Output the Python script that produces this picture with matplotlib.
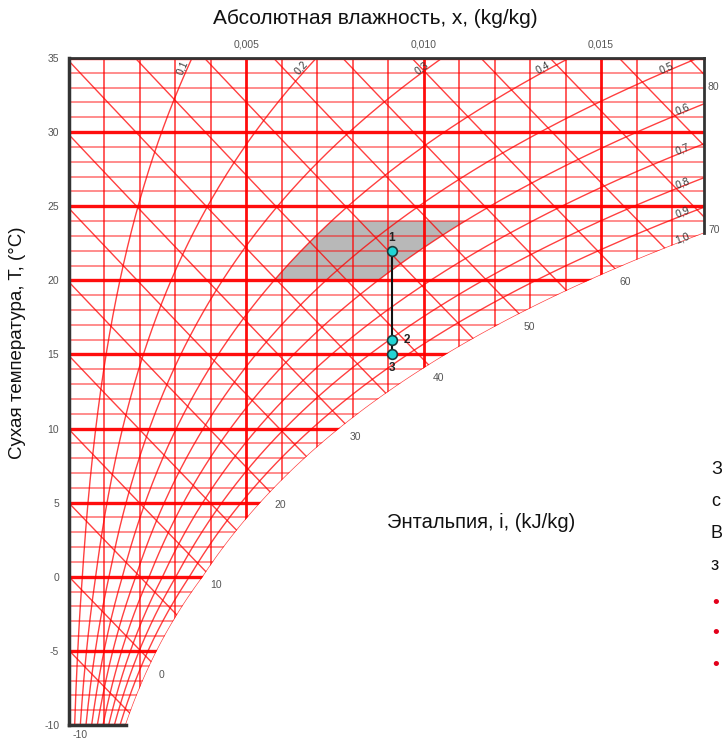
import numpy as np
import matplotlib
matplotlib.use("Agg")
import matplotlib.pyplot as plt
from matplotlib.patches import Polygon

plt.rcParams['font.family'] = ['Liberation Sans', 'DejaVu Sans']
plt.rcParams['axes.unicode_minus'] = False

# axis ranges
x_max = 0.0179
t_lo, t_hi = -10, 35
p_atm = 101.325

# grid levels
rh_levels = [0.1, 0.2, 0.3, 0.4, 0.5, 0.6, 0.7, 0.8, 0.9, 1.0]
rh_labels = ["0,1", "0,2", "0,3", "0,4", "0,5", "0,6", "0,7", "0,8", "0,9", "1,0"]
enthalpy_levels = [-10, -5, 0, 5, 10, 15, 20, 25, 30, 35, 40, 45, 50, 55,
                   60, 65, 70, 75, 80]
enthalpy_labels = [-10, 0, 10, 20, 30, 40, 50, 60, 70, 80]
t_grid = [-10, -9, -8, -7, -6, -5, -4, -3, -2, -1, 0, 1, 2, 3, 4, 5, 6, 7, 8,
          9, 10, 11, 12, 13, 14, 15, 16, 17, 18, 19, 20, 21, 22, 23, 24, 25,
          26, 27, 28, 29, 30, 31, 32, 33, 34, 35]
x_grid = [0.001, 0.002, 0.003, 0.004, 0.005, 0.006, 0.007, 0.008, 0.009,
          0.010, 0.011, 0.012, 0.013, 0.014, 0.015, 0.016, 0.017]
t_ticks = [-10, -5, 0, 5, 10, 15, 20, 25, 30, 35]
x_ticks = [0.005, 0.010, 0.015]
x_tick_labels = ["0,005", "0,010", "0,015"]

# process points
proc_x = [0.0091, 0.0091, 0.0091]
proc_t = [22.0, 16.0, 15.0]
proc_names = ["1", "2", "3"]

# comfort zone
zone_t = [20, 24]
zone_rh = [0.4, 0.6]


def p_sat(t):
    t = np.asarray(t, dtype=float)
    water = 0.61094 * np.exp(17.625 * t / (t + 243.04))
    ice = 0.61115 * np.exp(22.452 * t / (272.55 + t))
    return np.where(t >= 0, water, ice)


def x_rh(t, phi):
    pv = phi * p_sat(t)
    return 0.622 * pv / (p_atm - pv)


def x_enth(t, i):
    t = np.asarray(t, dtype=float)
    return (i - 1.006 * t) / (2501 + 1.86 * t)


red = '#ff0000'
fig = plt.figure(figsize=(7.24, 7.41), dpi=100)
ax = fig.add_axes([69 / 724, 1 - 725 / 741, (704 - 69) / 724, (725 - 58) / 741])
ax.set_xlim(0, x_max)
ax.set_ylim(t_lo, t_hi)

# region left of the saturation curve
tt = np.linspace(t_lo, t_hi, 2000)
xs = x_rh(tt, 1.0)
t_edge = np.interp(x_max, xs, tt)
ts = np.linspace(t_lo, t_edge, 400)
poly = [(0, t_lo)] + list(zip(x_rh(ts, 1.0), ts)) + [(x_max, t_edge), (x_max, t_hi), (0, t_hi)]
clip = Polygon(poly, closed=True, transform=ax.transData, facecolor='none', edgecolor='none')
ax.add_patch(clip)


def in_region(x, t):
    return (x >= 0) & (x <= x_max) & (x <= x_rh(t, 1.0) + 1e-9) & (t >= t_lo) & (t <= t_hi)


# comfort zone
zt = np.linspace(zone_t[0], zone_t[1], 50)
zone = list(zip(x_rh(zt, zone_rh[0]), zt)) + list(zip(x_rh(zt[::-1], zone_rh[1]), zt[::-1]))
ax.add_patch(Polygon(zone, closed=True, facecolor='#b8b8b8', edgecolor='none', zorder=1))

for t in t_grid:
    thick = t % 5 == 0
    ln, = ax.plot([0, x_max], [t, t], color=red, lw=2.4 if thick else 1.4,
                  alpha=0.95 if thick else 0.45, zorder=2)
    ln.set_clip_path(clip)

for xv in x_grid:
    thick = abs(round(xv * 1000) % 5) == 0
    ln, = ax.plot([xv, xv], [t_lo, t_hi], color=red, lw=2.0 if thick else 1.2,
                  alpha=0.95 if thick else 0.75, zorder=2)
    ln.set_clip_path(clip)

for i in enthalpy_levels:
    ln, = ax.plot(x_enth(tt, i), tt, color=red, lw=1.0, alpha=0.75, zorder=2)
    ln.set_clip_path(clip)

for phi in rh_levels:
    ln, = ax.plot(x_rh(tt, phi), tt, color=red, lw=1.0, alpha=0.75, zorder=2)
    ln.set_clip_path(clip)

# enthalpy labels at the lower end of each line
for i in enthalpy_labels:
    xe = x_enth(tt, i)
    m = in_region(xe, tt)
    k = np.argmax(m)
    off = (10, -10) if i == -10 else (10, -13)
    ax.annotate(str(i), (xe[k], tt[k]), xytext=off, textcoords='offset pixels',
                ha='center', va='center', fontsize=7.5, color='#555555')

# relative humidity labels
for phi, lab in zip(rh_levels, rh_labels):
    if phi <= 0.5:
        t0 = 34.2
        x0 = float(x_rh(t0, phi))
    else:
        x0 = 0.0174
        t0 = float(np.interp(x0, x_rh(tt, phi), tt))
    p1 = ax.transData.transform((float(x_rh(t0 - 0.5, phi)), t0 - 0.5))
    p2 = ax.transData.transform((float(x_rh(t0 + 0.5, phi)), t0 + 0.5))
    ang = np.degrees(np.arctan2(p2[1] - p1[1], p2[0] - p1[0]))
    if ang > 90:
        ang -= 180
    ax.annotate(lab, (x0, t0), xytext=(-4, 2), textcoords='offset pixels',
                rotation=ang, ha='center', va='center', fontsize=7.5, color='#3a3a3a',
                rotation_mode='anchor', zorder=4)

# process line and points
ax.plot(proc_x, proc_t, color='#111111', lw=1.5, zorder=5)
ax.plot(proc_x, proc_t, 'o', ms=7, mfc='#22d4d4', mec='#1a3a3a', mew=1.2, zorder=6)
offs = [(0, 13), (15, 0), (0, -14)]
for px, pt, name, off in zip(proc_x, proc_t, proc_names, offs):
    ax.annotate(name, (px, pt), xytext=off, textcoords='offset pixels', ha='center',
                va='center', fontsize=8.5, fontweight='bold', color='#222222', zorder=7)

# borders
bc = '#333333'
ax.plot([0, 0], [t_lo, t_hi], color=bc, lw=2.5, clip_on=False, zorder=8)
ax.plot([0, x_max], [t_hi, t_hi], color=bc, lw=2.0, clip_on=False, zorder=8)
ax.plot([0, float(x_rh(t_lo, 1.0))], [t_lo, t_lo], color=bc, lw=2.5, clip_on=False, zorder=8)
ax.plot([x_max, x_max], [t_edge, t_hi], color=bc, lw=2.0, clip_on=False, zorder=8)
for s in ax.spines.values():
    s.set_visible(False)

ax.xaxis.tick_top()
ax.set_xticks(x_ticks)
ax.set_xticklabels(x_tick_labels)
ax.set_yticks(t_ticks)
ax.tick_params(length=0, labelsize=7.5, labelcolor='#555555')
ax.tick_params(axis='y', pad=7)
ax.tick_params(axis='x', pad=6)

fig.text(375 / 724, 1 - 18 / 741, "Абсолютная влажность, x, (kg/kg)", ha='center',
         va='center', fontsize=15, color='#111111')
fig.text(18 / 724, 1 - 343 / 741, "Сухая температура, T, (°C)", ha='center',
         va='center', rotation=90, fontsize=13.5, color='#111111')
fig.text(481 / 724, 1 - 523 / 741, "Энтальпия, i, (kJ/kg)", ha='center',
         va='center', fontsize=14.5, color='#111111')

# partly visible text at the right edge
for ch, y in zip(["З", "с", "В", "з"], [470, 502, 533, 565]):
    fig.text(711 / 724, 1 - y / 741, ch, ha='left', va='center', fontsize=13, color='#111111')
for y in [603, 634, 665]:
    fig.text(712 / 724, 1 - y / 741, "•", ha='left', va='center', fontsize=14, color='#e3001b')

fig.savefig("out.png", dpi=100)
